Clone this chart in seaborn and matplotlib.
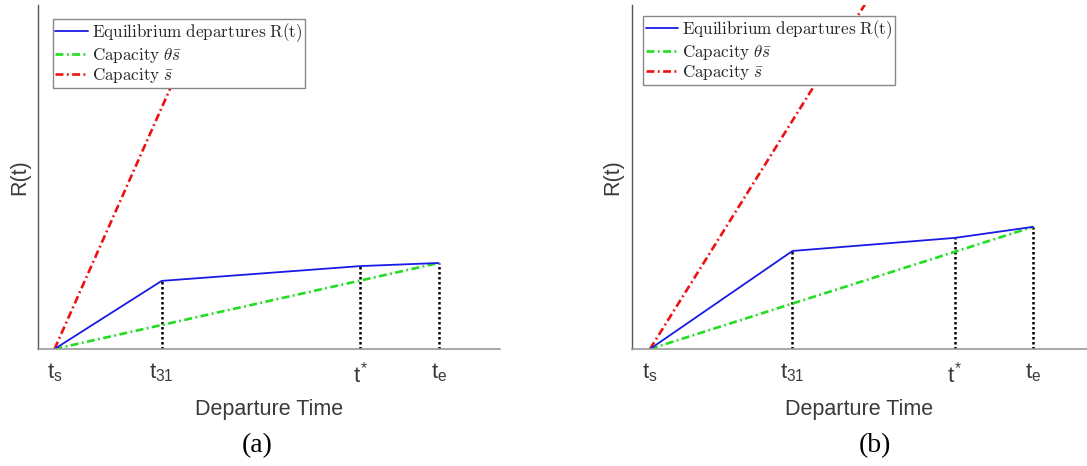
import matplotlib
matplotlib.use("Agg")
import matplotlib.pyplot as plt
from matplotlib.font_manager import FontProperties
import seaborn as sns

# ---------------- data ----------------
tick_labels = [r"$t_s$", r"$t_{31}$", r"$t^{*}$", r"$t_e$"]

a_times = [0.0, 0.279, 0.796, 1.0]
a_R = [0.0, 0.198, 0.241, 0.25]
a_theta_x = [0.0, 1.0]
a_theta_y = [0.0, 0.25]
a_cap_x = [0.0, 0.35]
a_cap_y = [0.0, 0.88]

b_times = [0.0, 0.372, 0.796, 1.0]
b_R = [0.0, 0.285, 0.323, 0.355]
b_theta_x = [0.0, 1.0]
b_theta_y = [0.0, 0.355]
b_cap_x = [0.0, 0.6]
b_cap_y = [0.0, 1.071]

legend_labels = [r"$\mathrm{Equilibrium\ departures\ R(t)}$",
                 r"$\mathrm{Capacity}\ \theta\bar{s}$",
                 r"$\mathrm{Capacity}\ \bar{s}$"]
captions = ["(a)", "(b)"]

# ---------------- style ----------------
sns.set_theme(style="white")
plt.rcParams["font.family"] = ["Liberation Sans", "DejaVu Sans"]
plt.rcParams["mathtext.fontset"] = "custom"
plt.rcParams["mathtext.rm"] = "Liberation Sans"
plt.rcParams["mathtext.it"] = "Liberation Sans"
plt.rcParams["mathtext.bf"] = "Liberation Sans:bold"

W, H = 1087, 466
fig = plt.figure(figsize=(W / 100, H / 100), dpi=100)
fig.patch.set_facecolor("white")

text_col = "#3a3a3a"
dashdot = (3.0, 1.3, 0.7, 1.3)
panels = [
    dict(left=38.4, right=500, times=a_times, R=a_R, tx=a_theta_x, ty=a_theta_y,
         cx=a_cap_x, cy=a_cap_y, xlim=(-0.042, 1.160), leg=(52.6, 19), cap_x=257),
    dict(left=632, right=1087, times=b_times, R=b_R, tx=b_theta_x, ty=b_theta_y,
         cx=b_cap_x, cy=b_cap_y, xlim=(-0.047, 1.141), leg=(643, 16), cap_x=875),
]
top_px, bot_px = 5, 349

for p, cap in zip(panels, captions):
    ax = fig.add_axes([p["left"] / W, (H - bot_px) / H,
                       (p["right"] - p["left"]) / W, (bot_px - top_px) / H])
    ax.set_facecolor("white")
    sns.lineplot(x=p["cx"], y=p["cy"], ax=ax, color="#ee1111",
                 linewidth=1.9)
    red_line = ax.lines[-1]
    red_line.set_dashes(dashdot)
    sns.lineplot(x=p["tx"], y=p["ty"], ax=ax, color="#22dd22",
                 linewidth=1.9)
    green_line = ax.lines[-1]
    green_line.set_dashes(dashdot)
    sns.lineplot(x=p["times"], y=p["R"], ax=ax, color="#1a1ae6",
                 linestyle="-", linewidth=1.3)
    blue_line = ax.lines[-1]
    ax.vlines(p["times"][1:], 0, p["R"][1:], colors="black",
              linestyles=(0, (1, 1)), linewidth=1.8, zorder=1)

    ax.set_xlim(*p["xlim"])
    ax.set_ylim(0, 1)
    ax.set_xticks(p["times"])
    ax.set_xticklabels(tick_labels, fontsize=16, color=text_col)
    ax.set_yticks([])
    ax.tick_params(axis="x", length=0, pad=9)
    for s in ["top", "right"]:
        ax.spines[s].set_visible(False)
    ax.spines["bottom"].set_color("#999999")
    ax.spines["bottom"].set_linewidth(1.2)
    ax.spines["left"].set_color("#555555")
    ax.spines["left"].set_linewidth(1.0)
    ax.set_xlabel("Departure Time", fontsize=15.5, color=text_col, labelpad=8)
    ax.set_ylabel("R(t)", fontsize=15.5, color=text_col, labelpad=6)

    fp = FontProperties(family="serif", size=12.3, math_fontfamily="cm")
    leg = ax.legend([blue_line, green_line, red_line], legend_labels, prop=fp,
                    loc="upper left",
                    bbox_to_anchor=(p["leg"][0] / W, 1 - p["leg"][1] / H),
                    bbox_transform=fig.transFigure, borderaxespad=0,
                    borderpad=0.15, handlelength=1.9, handletextpad=0.25,
                    labelspacing=0.08, fancybox=False, framealpha=1,
                    edgecolor="#888888")
    leg.get_frame().set_linewidth(1.0)

    fig.text(p["cap_x"] / W, 1 - 446 / H, cap, ha="center", va="center",
             fontsize=20, family="Liberation Serif", color="black")

fig.savefig("out.png", dpi=100, facecolor="white")
